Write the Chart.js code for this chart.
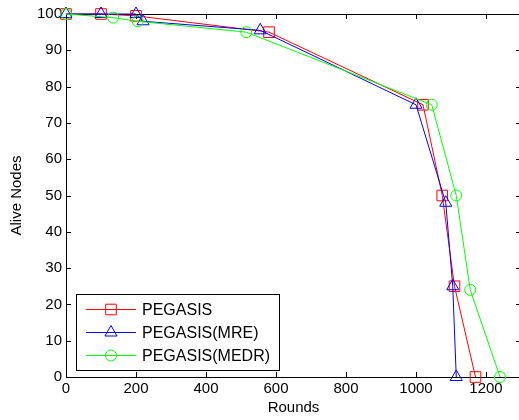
<!DOCTYPE html>
<html>
<head>
<meta charset="utf-8">
<script src="https://cdn.jsdelivr.net/npm/chart.js@4/dist/chart.umd.min.js"></script>
<style>
  html, body { margin: 0; padding: 0; background: #fff; overflow: hidden; }
  canvas { display: block; }
</style>
</head>
<body>
<canvas id="lifetimeChart" width="521" height="420"></canvas>
<script>
// values
const xTicks = [0, 200, 400, 600, 800, 1000, 1200];
const yTicks = [0, 10, 20, 30, 40, 50, 60, 70, 80, 90, 100];

const pegasisRounds = [0, 100, 200, 580, 1020, 1075, 1110, 1170];
const pegasisAlive = [100, 100, 99.5, 95, 75, 50, 25, 0];

const mreRounds = [0, 100, 200, 220, 555, 1000, 1085, 1105, 1115];
const mreAlive = [100, 100, 100, 98, 95.5, 75, 48, 25, 0];

const medrRounds = [0, 135, 205, 515, 1045, 1115, 1155, 1240];
const medrAlive = [100, 99, 98, 95, 75, 50, 24, 0];

const seriesNames = ["PEGASIS", "PEGASIS(MRE)", "PEGASIS(MEDR)"];
const seriesColors = ["#ff0000", "#0000ff", "#00ff00"];
const seriesMarkers = ["rect", "triangle", "circle"];
const markerRadius = [7.5, 7, 5.5];

const FONT = '"Liberation Sans", Arial, sans-serif';

function toPoints(xs, ys) {
  return xs.map((v, i) => ({ x: v, y: ys[i] }));
}

function makeSet(i, xs, ys) {
  return {
    label: seriesNames[i],
    data: toPoints(xs, ys),
    borderColor: seriesColors[i],
    backgroundColor: "rgba(0,0,0,0)",
    pointStyle: seriesMarkers[i],
    pointRadius: markerRadius[i],
    pointBorderWidth: 1,
    pointBackgroundColor: "rgba(0,0,0,0)",
    borderWidth: 1,
    tension: 0,
    clip: false,
    order: 3 - i,
  };
}

// box around the axes with inward ticks on all four sides
const framePlugin = {
  id: "frame",
  beforeDatasetsDraw(chart) {
    const { ctx, chartArea: a, scales } = chart;
    ctx.save();
    ctx.strokeStyle = "#000";
    ctx.lineWidth = 1;
    ctx.strokeRect(Math.round(a.left) + 0.5, Math.round(a.top) + 0.5,
      Math.round(a.right - a.left), Math.round(a.bottom - a.top));
    ctx.beginPath();
    xTicks.forEach((v) => {
      const px = Math.round(scales.x.getPixelForValue(v)) + 0.5;
      ctx.moveTo(px, a.bottom); ctx.lineTo(px, a.bottom - 5);
      ctx.moveTo(px, a.top); ctx.lineTo(px, a.top + 5);
    });
    yTicks.forEach((v) => {
      const py = Math.round(scales.y.getPixelForValue(v)) + 0.5;
      ctx.moveTo(a.left, py); ctx.lineTo(a.left + 5, py);
      ctx.moveTo(a.right, py); ctx.lineTo(a.right - 5, py);
    });
    ctx.stroke();
    ctx.restore();
  },
};

function drawMarker(ctx, style, x, y, r) {
  ctx.beginPath();
  if (style === "rect") {
    const s = Math.SQRT1_2 * r;
    ctx.rect(x - s, y - s, 2 * s, 2 * s);
  } else if (style === "triangle") {
    for (let k = 0; k < 3; k++) {
      const ang = -Math.PI / 2 + k * 2 * Math.PI / 3;
      const px = x + r * Math.cos(ang), py = y + r * Math.sin(ang);
      if (k === 0) ctx.moveTo(px, py); else ctx.lineTo(px, py);
    }
    ctx.closePath();
  } else {
    ctx.arc(x, y, r, 0, Math.PI * 2);
  }
  ctx.stroke();
}

// legend box in the lower left corner of the axes
const legendPlugin = {
  id: "boxLegend",
  afterDraw(chart) {
    const { ctx, chartArea: a } = chart;
    const left = Math.round(a.left) + 10, top = Math.round(a.bottom) - 83;
    const w = 203, h = 76;
    ctx.save();
    ctx.fillStyle = "#fff";
    ctx.fillRect(left, top, w, h);
    ctx.strokeStyle = "#000";
    ctx.lineWidth = 1;
    ctx.strokeRect(left + 0.5, top + 0.5, w, h);
    ctx.font = "16px " + FONT;
    ctx.textBaseline = "middle";
    seriesNames.forEach((name, i) => {
      const y = top + 15.5 + i * 23;
      ctx.strokeStyle = seriesColors[i];
      ctx.beginPath();
      ctx.moveTo(left + 10, y); ctx.lineTo(left + 60, y);
      ctx.stroke();
      drawMarker(ctx, seriesMarkers[i], left + 35, y, markerRadius[i]);
      ctx.fillStyle = "#000";
      ctx.fillText(name, left + 66, y + 1);
    });
    ctx.restore();
  },
};

new Chart(document.getElementById("lifetimeChart"), {
  type: "line",
  data: {
    datasets: [
      makeSet(0, pegasisRounds, pegasisAlive),
      makeSet(1, mreRounds, mreAlive),
      makeSet(2, medrRounds, medrAlive),
    ],
  },
  options: {
    responsive: false,
    animation: false,
    layout: { autoPadding: false, padding: { top: 14, right: 0, left: 0, bottom: 0 } },
    plugins: {
      legend: { display: false },
      tooltip: { enabled: false },
    },
    scales: {
      x: {
        type: "linear",
        min: 0,
        max: 1300,
        afterBuildTicks: (scale) => { scale.ticks = xTicks.map((v) => ({ value: v })); },
        afterFit: (scale) => { scale.height = 43; scale.paddingRight = 0; },
        grid: { display: false, drawTicks: false },
        border: { display: false },
        ticks: { color: "#000", font: { size: 15, family: FONT }, padding: 3, maxRotation: 0, callback: (v) => String(v) },
        title: { display: true, text: "Rounds", color: "#000", font: { size: 15, family: FONT }, padding: { top: 0, bottom: 3 } },
      },
      y: {
        min: 0,
        max: 100,
        afterBuildTicks: (scale) => { scale.ticks = yTicks.map((v) => ({ value: v })); },
        afterFit: (scale) => { scale.width = 66; },
        grid: { display: false, drawTicks: false },
        border: { display: false },
        ticks: { color: "#000", font: { size: 15, family: FONT }, padding: 4, callback: (v) => String(v) },
        title: { display: true, text: "Alive Nodes", color: "#000", font: { size: 15, family: FONT }, padding: { top: 8, bottom: 0 } },
      },
    },
  },
  plugins: [framePlugin, legendPlugin],
});
</script>
</body>
</html>
